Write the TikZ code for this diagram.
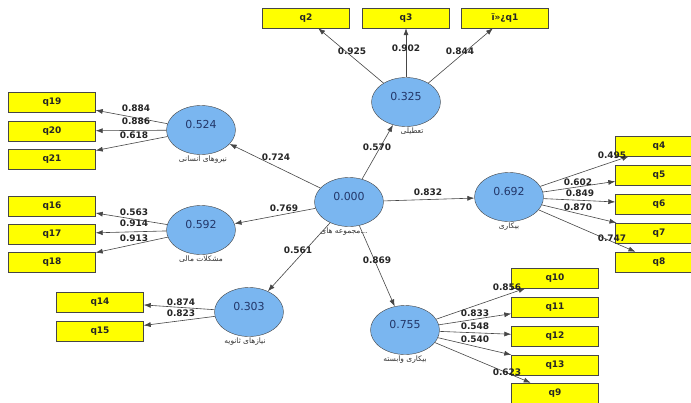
\documentclass[tikz,border=0pt]{standalone}
\usepackage{fontspec}
\setmainfont{DejaVu Sans}
\newfontfamily\fafont[Script=Arabic]{DejaVu Sans}
\TeXXeTstate=1
\usetikzlibrary{shapes.geometric,arrows.meta,positioning}
\definecolor{boxyellow}{RGB}{255,255,0}
\definecolor{lvblue}{RGB}{122,182,240}
\definecolor{linegray}{RGB}{70,70,70}
\definecolor{valnavy}{RGB}{35,55,105}
\tikzset{
  ind/.style={draw=linegray,fill=boxyellow,minimum width=87pt,minimum height=20pt,inner sep=0pt,font=\fontsize{9}{10}\selectfont\bfseries,text=black!85},
  lv/.style={ellipse,draw=linegray,fill=lvblue,minimum width=69pt,minimum height=49pt,inner sep=0pt,text height=8pt,text depth=12pt,font=\fontsize{11}{12}\selectfont,text=valnavy},
  lvname/.style={inner sep=1pt,font=\fontsize{7.5}{8}\selectfont\fafont,text=black!80},
  load/.style={inner sep=0pt,font=\fontsize{9}{10}\selectfont\bfseries,text=black!85},
  link/.style={draw=linegray,line width=0.6pt,-{Latex[length=7pt,width=5pt]}}
}
\begin{document}
\begin{tikzpicture}[x=1pt,y=-1pt]
        \useasboundingbox (0,0) rectangle (691,402);
        \clip (0,0) rectangle (691,402);
        \fill[white] (0,0) rectangle (691,402);

        % latent variables
        \node[lv] at (349,202) (cen) {0.000};
        \node[lv] at (406,102) (close) {0.325};
        \node[lv] at (201,130) (hr) {0.524};
        \node[lv] at (201,230) (fin) {0.592};
        \node[lv] at (249,312) (sec) {0.303};
        \node[lv] at (509,197) (unemp) {0.692};
        \node[lv] at (405,330) (dep) {0.755};

        % names
        \node[lvname,below=0pt of cen,xshift=-5pt] (cen name) {\beginR مجموعه های\endR...};
        \node[lvname,below=0pt of close,xshift=6pt] (close name) {\beginR تعطیلی\endR};
        \node[lvname,below=0pt of hr,xshift=2pt] (hr name) {\beginR نیروهای انسانی\endR};
        \node[lvname,below=0pt of fin] (fin name) {\beginR مشکلات مالی\endR};
        \node[lvname,below=0pt of sec,xshift=-4pt] (sec name) {\beginR نیازهای ثانویه\endR};
        \node[lvname,below=0pt of unemp] (unemp name) {\beginR بیکاری\endR};
        \node[lvname,below=0pt of dep] (dep name) {\beginR بیکاری وابسته\endR};

        % indicators
        \node[ind] at (306,18) (q2) {q2};
        \node[ind] at (406,18) (q3) {q3};
        \node[ind] at (505,18) (q1) {ï»¿q1};

        \node[ind] at (52,102) (q19) {q19};
        \node[ind] at (52,131) (q20) {q20};
        \node[ind] at (52,159) (q21) {q21};

        \node[ind] at (52,206) (q16) {q16};
        \node[ind] at (52,234) (q17) {q17};
        \node[ind] at (52,262) (q18) {q18};

        \node[ind] at (100,302) (q14) {q14};
        \node[ind] at (100,331) (q15) {q15};

        \node[ind] at (659,146) (q4) {q4};
        \node[ind] at (659,175) (q5) {q5};
        \node[ind] at (659,204) (q6) {q6};
        \node[ind] at (659,233) (q7) {q7};
        \node[ind] at (659,262) (q8) {q8};

        \node[ind] at (555,278) (q10) {q10};
        \node[ind] at (555,307) (q11) {q11};
        \node[ind] at (555,336) (q12) {q12};
        \node[ind] at (555,365) (q13) {q13};
        \node[ind] at (555,393) (q9) {q9};

        % inner model
        \draw[link] (cen) -- (close);
        \draw[link] (cen) -- (hr);
        \draw[link] (cen) -- (fin);
        \draw[link] (cen) -- (sec);
        \draw[link] (cen) -- (unemp);
        \draw[link] (cen) -- (dep);
        \node[load] at (377,147) (p close) {0.570};
        \node[load] at (276,157) (p hr) {0.724};
        \node[load] at (284,208) (p fin) {0.769};
        \node[load] at (298,250) (p sec) {0.561};
        \node[load] at (428,192) (p unemp) {0.832};
        \node[load] at (377,260) (p dep) {0.869};

        % outer model
        \foreach \q in {q2,q3,q1} \draw[link] (close) -- (\q);
        \foreach \q in {q19,q20,q21} \draw[link] (hr) -- (\q);
        \foreach \q in {q16,q17,q18} \draw[link] (fin) -- (\q);
        \foreach \q in {q14,q15} \draw[link] (sec) -- (\q);
        \foreach \q in {q4,q5,q6,q7,q8} \draw[link] (unemp) -- (\q);
        \foreach \q in {q10,q11,q12,q13,q9} \draw[link] (dep) -- (\q);

        % loadings
        \node[load] at (352,51) (w2) {0.925};
        \node[load] at (406,48) (w3) {0.902};
        \node[load] at (460,51) (w1) {0.844};
        \node[load] at (136,108) (w19) {0.884};
        \node[load] at (136,121) (w20) {0.886};
        \node[load] at (134,135) (w21) {0.618};
        \node[load] at (134,212) (w16) {0.563};
        \node[load] at (134,223) (w17) {0.914};
        \node[load] at (134,238) (w18) {0.913};
        \node[load] at (181,302) (w14) {0.874};
        \node[load] at (181,313) (w15) {0.823};
        \node[load] at (612,155) (w4) {0.495};
        \node[load] at (578,182) (w5) {0.602};
        \node[load] at (580,193) (w6) {0.849};
        \node[load] at (578,207) (w7) {0.870};
        \node[load] at (612,238) (w8) {0.747};
        \node[load] at (507,287) (w10) {0.856};
        \node[load] at (475,313) (w11) {0.833};
        \node[load] at (475,326) (w12) {0.548};
        \node[load] at (475,339) (w13) {0.540};
        \node[load] at (507,372) (w9) {0.623};
\end{tikzpicture}
\end{document}
